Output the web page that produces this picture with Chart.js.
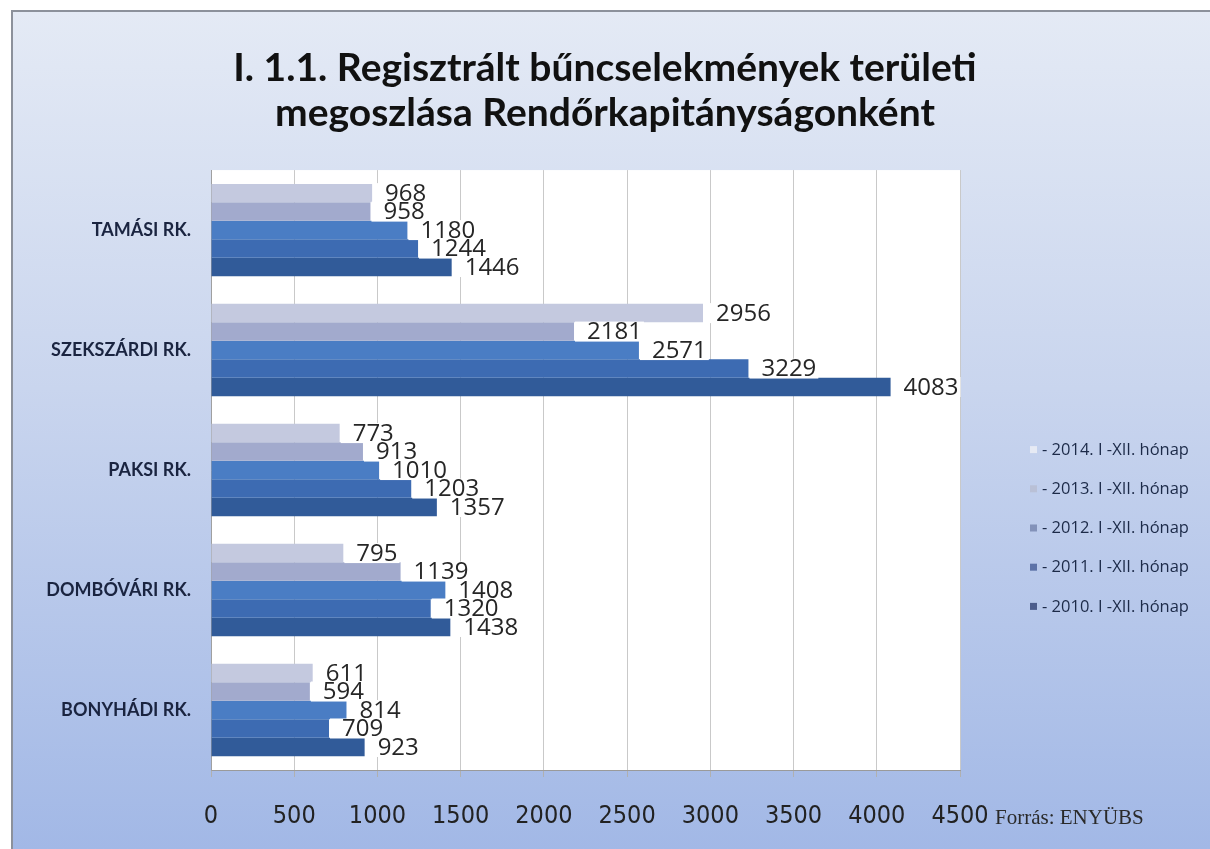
<!DOCTYPE html>
<html>
<head>
<meta charset="utf-8">
<script src="https://cdn.jsdelivr.net/npm/chart.js@4.4.1/dist/chart.umd.min.js"></script>
<style>
  html, body { margin: 0; padding: 0; background: #ffffff; }
  #wrap { width: 1210px; height: 849px; position: relative; }
</style>
</head>
<body>
<div id="wrap"><canvas id="c" width="1210" height="849"></canvas></div>
<script>
// ---- data ----
const titleLines = ['I. 1.1. Regisztrált bűncselekmények területi', 'megoszlása Rendőrkapitányságonként'];
const categories = ['TAMÁSI RK.', 'SZEKSZÁRDI RK.', 'PAKSI RK.', 'DOMBÓVÁRI RK.', 'BONYHÁDI RK.'];
const seriesNames = ['- 2014. I -XII. hónap', '- 2013. I -XII. hónap', '- 2012. I -XII. hónap', '- 2011. I -XII. hónap', '- 2010. I -XII. hónap'];
const v2014 = [968, 2956, 773, 795, 611];
const v2013 = [958, 2181, 913, 1139, 594];
const v2012 = [1180, 2571, 1010, 1408, 814];
const v2011 = [1244, 3229, 1203, 1320, 709];
const v2010 = [1446, 4083, 1357, 1438, 923];
const xTickValues = [0, 500, 1000, 1500, 2000, 2500, 3000, 3500, 4000, 4500];
const sourceNote = 'Forrás: ENYÜBS';

// ---- styles ----
const barColors = ['#c4c9df', '#a2aacd', '#4a7dc4', '#3d6bb2', '#315b99'];
const legendMarkColors = ['#e6eaf4', '#b9c0d6', '#8392b9', '#5d72a7', '#4c5d8c'];
const seriesValues = [v2014, v2013, v2012, v2011, v2010];

const bgPlugin = {
  id: 'bg',
  beforeDraw(chart) {
    const ctx = chart.ctx;
    const W = chart.width, H = chart.height;
    ctx.save();
    ctx.fillStyle = '#ffffff';
    ctx.fillRect(0, 0, W, H);
    const g = ctx.createLinearGradient(0, 12, 0, H);
    g.addColorStop(0, '#e4eaf5');
    g.addColorStop(0.45, '#c9d5ee');
    g.addColorStop(1, '#a2b8e6');
    ctx.fillStyle = g;
    ctx.fillRect(12, 11, W - 12, H - 11);
    ctx.fillStyle = '#8c919b';
    ctx.fillRect(11, 10, W - 11, 2);
    ctx.fillRect(11, 10, 2, H - 10);
    const a = chart.chartArea;
    ctx.fillStyle = '#ffffff';
    ctx.fillRect(a.left, a.top, a.right - a.left, a.bottom - a.top);
    ctx.restore();
  },
  afterDraw(chart) {
    const ctx = chart.ctx;
    const a = chart.chartArea;
    ctx.save();
    ctx.font = '21px "Liberation Serif", "DejaVu Serif", serif';
    ctx.fillStyle = '#2a2a2a';
    ctx.textBaseline = 'middle';
    ctx.textAlign = 'left';
    ctx.fillText(sourceNote, a.right + 35, a.bottom + 48);
    ctx.font = '16.5px "Open Sans", sans-serif';
    for (let i = 0; i < seriesNames.length; i++) {
      const y = a.top + 280 + i * 39.2;
      ctx.fillStyle = legendMarkColors[i];
      ctx.fillRect(a.right + 70, y - 4, 7, 7);
      ctx.fillStyle = '#1c2a48';
      ctx.fillText(seriesNames[i], a.right + 82, y);
    }
    ctx.restore();
  }
};

const labelPlugin = {
  id: 'valueLabels',
  afterDatasetsDraw(chart) {
    const ctx = chart.ctx;
    ctx.save();
    ctx.font = '24px "Open Sans", sans-serif';
    ctx.textBaseline = 'middle';
    ctx.textAlign = 'left';
    chart.data.datasets.forEach((ds, i) => {
      const meta = chart.getDatasetMeta(i);
      meta.data.forEach((bar, j) => {
        const txt = String(ds.data[j]);
        const w = ctx.measureText(txt).width;
        const x0 = bar.x + 1;
        const tx = bar.x + 13;
        ctx.fillStyle = '#ffffff';
        ctx.fillRect(x0, bar.y - 10, tx - x0 + w + 2, 20);
        ctx.fillStyle = '#262626';
        ctx.fillText(txt, tx, bar.y + 1);
      });
    });
    ctx.restore();
  }
};

const datasets = seriesNames.map((name, i) => ({
  label: name,
  data: seriesValues[i],
  backgroundColor: barColors[i],
  borderWidth: 0,
  barPercentage: 1.0,
  categoryPercentage: 0.77
}));

new Chart(document.getElementById('c'), {
  type: 'bar',
  data: { labels: categories, datasets },
  plugins: [bgPlugin, labelPlugin],
  options: {
    indexAxis: 'y',
    responsive: false,
    animation: false,
    devicePixelRatio: 1,
    layout: { padding: 0 },
    plugins: {
      legend: { display: false },
      tooltip: { enabled: false },
      title: {
        display: true,
        text: titleLines,
        color: '#111111',
        font: { family: 'Lato, "Open Sans", sans-serif', size: 39, weight: 'bold', lineHeight: 1.155 },
        padding: { top: 46, bottom: 34 },
        align: 'center'
      }
    },
    scales: {
      x: {
        min: 0,
        max: 4500,
        afterBuildTicks(scale) { scale.ticks = xTickValues.map(v => ({ value: v })); },
        afterFit(scale) { scale.height = 79; },
        grid: { color: '#c9c9c9', lineWidth: 1, drawTicks: true, tickLength: 7, tickColor: '#b0b0b0' },
        border: { display: true, color: '#9a9a9a', width: 1 },
        ticks: {
          padding: 24,
          color: '#222222',
          font: { family: '"Liberation Sans Narrow", "DejaVu Sans Condensed", sans-serif', size: 25 },
          maxRotation: 0,
          autoSkip: false,
          callback: (v) => String(v)
        }
      },
      y: {
        afterFit(scale) { scale.width = 211; },
        grid: { display: false, drawTicks: false },
        border: { display: true, color: '#a0a0a0', width: 1 },
        ticks: {
          padding: 20,
          color: '#1a2440',
          font: { family: 'Lato, "Open Sans", sans-serif', size: 18, weight: 'bold' }
        }
      },
      side: {
        type: 'category',
        axis: 'y',
        position: 'right',
        labels: categories,
        afterFit(scale) { scale.width = 250; },
        grid: { display: false, drawTicks: false },
        border: { display: false },
        ticks: { display: false }
      }
    }
  }
});
</script>
</body>
</html>
